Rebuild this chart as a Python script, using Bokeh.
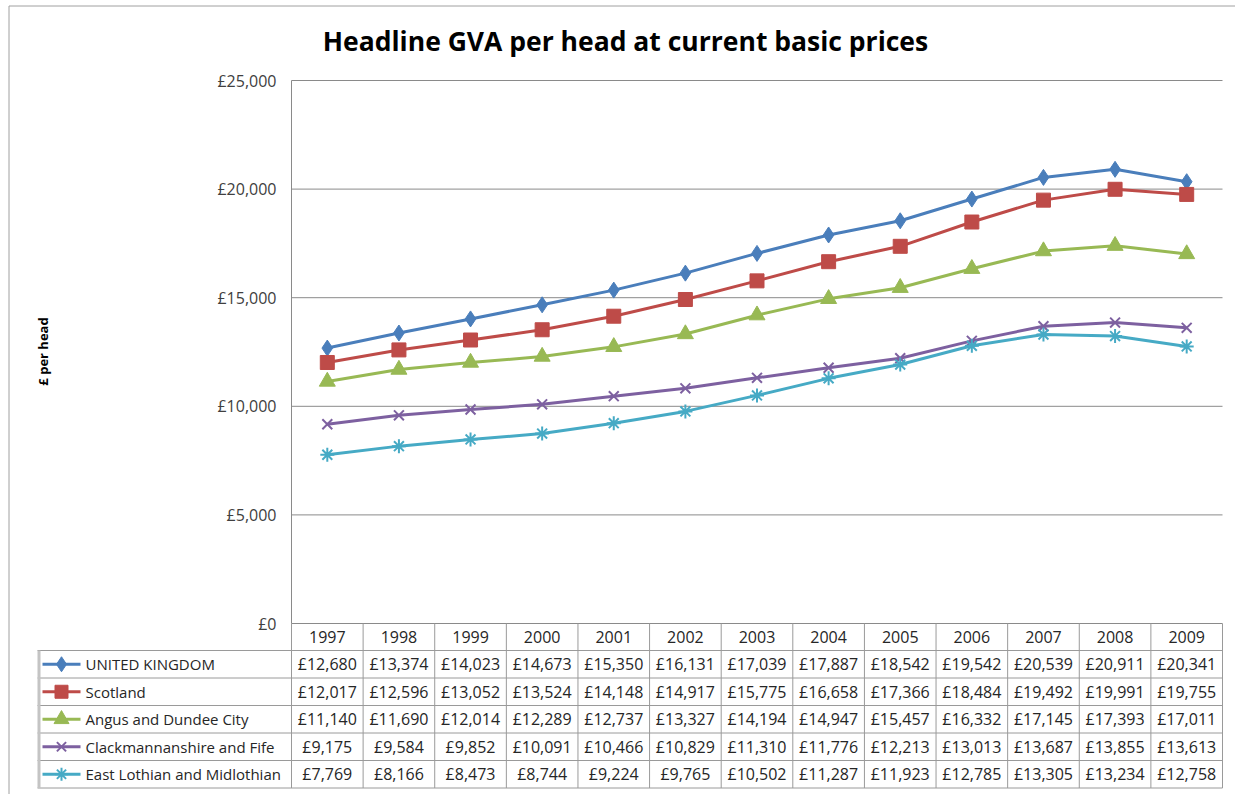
from bokeh.plotting import figure
from bokeh.models import Range1d, FixedTicker, ColumnDataSource
from bokeh.embed import file_html
from bokeh.resources import INLINE
from bokeh.core.properties import value
import math

# ---------------- data ----------------
years = ["1997", "1998", "1999", "2000", "2001", "2002", "2003",
         "2004", "2005", "2006", "2007", "2008", "2009"]
series_names = ["UNITED KINGDOM", "Scotland", "Angus and Dundee City",
                "Clackmannanshire and Fife", "East Lothian and Midlothian"]
uk = [12680, 13374, 14023, 14673, 15350, 16131, 17039, 17887, 18542, 19542, 20539, 20911, 20341]
scotland = [12017, 12596, 13052, 13524, 14148, 14917, 15775, 16658, 17366, 18484, 19492, 19991, 19755]
angus = [11140, 11690, 12014, 12289, 12737, 13327, 14194, 14947, 15457, 16332, 17145, 17393, 17011]
clack = [9175, 9584, 9852, 10091, 10466, 10829, 11310, 11776, 12213, 13013, 13687, 13855, 13613]
east = [7769, 8166, 8473, 8744, 9224, 9765, 10502, 11287, 11923, 12785, 13305, 13234, 12758]
y_ticks = [0, 5000, 10000, 15000, 20000, 25000]
title_text = "Headline GVA per head at current basic prices"
y_label = "£ per head"

series_values = [uk, scotland, angus, clack, east]
colors = ["#4a7ebb", "#be4b48", "#98b954", "#7d60a0", "#46aac5"]
markers = ["diamond", "square", "triangle", "x", "asterisk"]
sizes = [16, 14, 16, 14, 14]

FONT = "Open Sans"
TXT = "#262626"
GRID = "#8a8a8a"
TABLE_LINE = "#9a9a9a"

W, H = 1235, 794
n = len(years)
xs = [i + 0.5 for i in range(n)]

# page-pixel geometry of the plotting area
FL, FR = 291, 1222      # left / right of the value area
FT, FB = 80, 623        # top (25,000) / bottom (0)
ppu_x = (FR - FL) / n
k_y = y_ticks[-1] / (FB - FT)


def dx(px):
    return (px - FL) / ppu_x


def dy(py):
    return (FB - py) * k_y


p = figure(width=W, height=H, x_range=Range1d(dx(0), dx(W)), y_range=Range1d(dy(H), dy(0)),
           output_backend="svg", toolbar_location=None, x_axis_location=None,
           min_border_left=0, min_border_right=0, min_border_top=0, min_border_bottom=0)
p.outline_line_color = None
p.background_fill_color = "white"
p.border_fill_color = "white"
p.grid.visible = False

ax = p.yaxis[0]
ax.fixed_location = 0
ax.bounds = (y_ticks[0], y_ticks[-1])
ax.ticker = FixedTicker(ticks=y_ticks)
ax.major_label_overrides = {t: "£{:,}".format(t) for t in y_ticks}
ax.major_tick_line_color = None
ax.minor_tick_line_color = None
ax.axis_line_color = GRID
ax.major_label_standoff = 9
ax.major_label_text_font = FONT
ax.major_label_text_font_size = "16px"
ax.major_label_text_color = "#404040"

# horizontal gridlines
p.segment(x0=[0] * len(y_ticks), y0=y_ticks, x1=[n] * len(y_ticks), y1=y_ticks,
          line_color=GRID, line_width=1)

# outer chart border
p.segment(x0=[dx(8.5), dx(8.5)], y0=[dy(5.5), dy(5.5)], x1=[dx(8.5), dx(W)], y1=[dy(H), dy(5.5)],
          line_color="#a0a0a0", line_width=1)

# series
for vals, c, m, s in zip(series_values, colors, markers, sizes):
    src = ColumnDataSource(dict(x=xs, y=vals))
    p.line("x", "y", source=src, line_color=c, line_width=3)
    if m in ("x", "asterisk"):
        p.scatter("x", "y", source=src, marker=m, size=s, line_color=c, line_width=2)
    else:
        p.scatter("x", "y", source=src, marker=m, size=s, fill_color=c, line_color=c)

# title and axis label
p.text(x=[dx(625)], y=[dy(40)], text=[title_text], text_font=value(FONT),
       text_font_style="bold", text_font_size="26.5px", text_align="center",
       text_baseline="middle", text_color="black")
p.text(x=[dx(42)], y=[dy(351)], text=[y_label], angle=math.pi / 2, text_font=value(FONT),
       text_font_style="bold", text_font_size="13px", text_align="center",
       text_baseline="middle", text_color="black")

# ---------------- data table ----------------
row_lines = [650, 677.5, 705, 732.5, 760, 787.5]
left_px = 37
p.segment(x0=[dx(left_px)] * len(row_lines), y0=[dy(v) for v in row_lines],
          x1=[n] * len(row_lines), y1=[dy(v) for v in row_lines],
          line_color=TABLE_LINE, line_width=1)
p.segment(x0=list(range(n + 1)), y0=[dy(FB)] * (n + 1),
          x1=list(range(n + 1)), y1=[dy(row_lines[-1])] * (n + 1),
          line_color=TABLE_LINE, line_width=1)
p.segment(x0=[dx(left_px + 1.5)], y0=[dy(row_lines[0])], x1=[dx(left_px + 1.5)],
          y1=[dy(row_lines[-1])], line_color="#c4c4c4", line_width=3)

p.text(x=xs, y=[dy(636)] * n, text=years, text_font=value(FONT), text_font_size="16px",
       text_align="center", text_baseline="middle", text_color=TXT)

row_centers = [(row_lines[i] + row_lines[i + 1]) / 2 for i in range(len(series_names))]
for r, (name, vals, c, m, s) in enumerate(zip(series_names, series_values, colors, markers, sizes)):
    yc = dy(row_centers[r])
    p.text(x=xs, y=[yc] * n, text=["£{:,}".format(v) for v in vals],
           text_font=value(FONT), text_font_size="16px",
           text_align="center", text_baseline="middle", text_color=TXT)
    p.text(x=[dx(85)], y=[yc], text=[name], text_font=value(FONT), text_font_size="15px",
           text_align="left", text_baseline="middle", text_color=TXT)
    p.segment(x0=[dx(42)], y0=[yc], x1=[dx(80)], y1=[yc], line_color=c, line_width=3)
    if m in ("x", "asterisk"):
        p.scatter(x=[dx(61)], y=[yc], marker=m, size=s - 1, line_color=c, line_width=2)
    else:
        p.scatter(x=[dx(61)], y=[yc], marker=m, size=s - 1, fill_color=c, line_color=c)

open("out.html", "w").write(file_html(p, INLINE))
